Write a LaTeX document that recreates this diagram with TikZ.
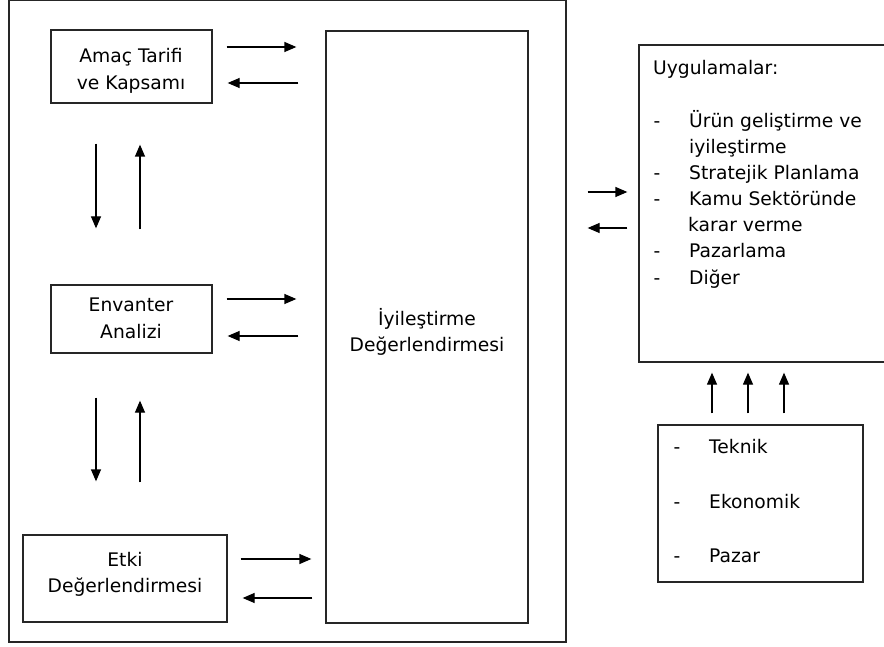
\documentclass[tikz,border=0pt]{standalone}
\usepackage{fontspec}
\setmainfont{DejaVu Sans}
\usetikzlibrary{arrows.meta}
\begin{document}
\begin{tikzpicture}[x=1pt,y=-1pt,
  frame/.style={draw=black!85, line width=1.3pt},
  box/.style={frame, inner sep=0pt},
  arr/.style={line width=1.3pt, -{Triangle[length=12pt,width=10pt]}},
  lbl/.style={anchor=base, inner sep=0pt, font=\fontsize{18.7}{26}\selectfont},
  txt/.style={anchor=base west, inner sep=0pt, font=\fontsize{18.7}{26}\selectfont}]
\useasboundingbox (0,0) rectangle (884,647);
\fill[white] (0,0) rectangle (884,647);

% enclosing frame of the assessment stages
\draw[frame] (9,0.7) rectangle (566,642);

% stage boxes
\node[box, minimum width=161pt, minimum height=73pt] (amac) at (131.5,66.5) {};
\node[box, minimum width=161pt, minimum height=68pt] (env) at (131.5,319) {};
\node[box, minimum width=204pt, minimum height=87pt] (etki) at (125,578.5) {};
\node[box, minimum width=202pt, minimum height=592pt] (big) at (427,327) {};

% stage titles, one node per line
\node[lbl] (amac1) at (131,62.7) {Amaç Tarifi};
\node[lbl] (amac2) at (131,89.3) {ve Kapsamı};
\node[lbl] (env1) at (131,311.7) {Envanter};
\node[lbl] (env2) at (131,338.3) {Analizi};
\node[lbl] (etki1) at (125,566.7) {Etki};
\node[lbl] (etki2) at (125,592.7) {Değerlendirmesi};
\node[lbl] (big1) at (427,326) {İyileştirme};
\node[lbl] (big2) at (427,351.7) {Değerlendirmesi};

% applications box (runs past the right edge) and factors box
\node[box, minimum width=247pt, minimum height=317pt] (uyg) at (762.5,203.5) {};
\node[box, minimum width=205pt, minimum height=157pt] (fac) at (760.5,503.5) {};

% applications list
\node[txt] (u0) at (653,75) {Uygulamalar:};
\node[lbl] (d1) at (657,128) {-};
\node[txt] (u1) at (689,128) {Ürün geliştirme ve};
\node[txt] (u2) at (689,154) {iyileştirme};
\node[lbl] (d3) at (657,180) {-};
\node[txt] (u3) at (689,180) {Stratejik Planlama};
\node[lbl] (d4) at (657,206) {-};
\node[txt] (u4) at (689,206) {Kamu Sektöründe};
\node[txt] (u5) at (688,232) {karar verme};
\node[lbl] (d6) at (657,258) {-};
\node[txt] (u6) at (689,258) {Pazarlama};
\node[lbl] (d7) at (657,284) {-};
\node[txt] (u7) at (689,284) {Diğer};

% factors list
\node[lbl] (f1d) at (677,453) {-};
\node[txt] (f1) at (709,453) {Teknik};
\node[lbl] (f2d) at (677,508) {-};
\node[txt] (f2) at (709,508) {Ekonomik};
\node[lbl] (f3d) at (677,562) {-};
\node[txt] (f3) at (709,562) {Pazar};

% stage <-> improvement assessment
\draw[arr, shorten <=14pt, shorten >=29pt] (amac.east |- 0,47) -- (big.west |- 0,47);
\draw[arr, shorten <=27pt, shorten >=15pt] (big.west |- 0,83) -- (amac.east |- 0,83);
\draw[arr, shorten <=14pt, shorten >=29pt] (env.east |- 0,299) -- (big.west |- 0,299);
\draw[arr, shorten <=27pt, shorten >=15pt] (big.west |- 0,336) -- (env.east |- 0,336);
\draw[arr, shorten <=13pt, shorten >=14pt] (etki.east |- 0,559) -- (big.west |- 0,559);
\draw[arr, shorten <=13pt, shorten >=15pt] (big.west |- 0,598) -- (etki.east |- 0,598);

% stage <-> stage
\draw[arr, shorten <=40pt, shorten >=56pt] (amac.south -| 96,0) -- (env.north -| 96,0);
\draw[arr, shorten <=55pt, shorten >=41pt] (env.north -| 140,0) -- (amac.south -| 140,0);
\draw[arr, shorten <=44pt, shorten >=53pt] (env.south -| 96,0) -- (etki.north -| 96,0);
\draw[arr, shorten <=52pt, shorten >=47pt] (etki.north -| 140,0) -- (env.south -| 140,0);

% assessment <-> applications
\draw[arr, shorten <=59pt, shorten >=11pt] (big.east |- 0,192) -- (uyg.west |- 0,192);
\draw[arr, shorten <=11pt, shorten >=59pt] (uyg.west |- 0,228) -- (big.east |- 0,228);

% factors -> applications
\foreach \x in {712,748,784}
  \draw[arr, shorten <=11pt, shorten >=10pt] (fac.north -| \x,0) -- (uyg.south -| \x,0);
\end{tikzpicture}
\end{document}
